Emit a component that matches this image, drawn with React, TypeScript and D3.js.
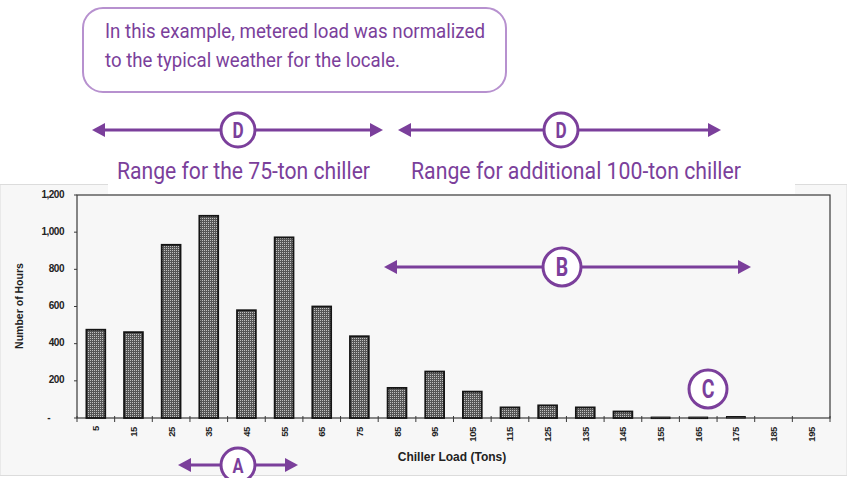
import React from "react";
import * as d3 from "d3";

const categories = ["5","15","25","35","45","55","65","75","85","95","105","115","125","135","145","155","165","175","185","195"];
const hours = [475, 462, 932, 1088, 580, 972, 600, 440, 162, 250, 142, 57, 68, 57, 35, 5, 5, 8, 0, 0];
const yTicks = [0, 200, 400, 600, 800, 1000, 1200];

const W = 847, H = 478;
const PL = 77, PR = 830, PT = 195, PB = 418;
const PURPLE = "#7b3f9b";
const PURPLE_LIGHT = "#b791cf";
const COND = "'Roboto', 'Liberation Sans', sans-serif";
const ARIAL = "'Liberation Sans', Arial, sans-serif";

function ArrowLine({ x1, x2, y, left = true, right = true }: { x1: number; x2: number; y: number; left?: boolean; right?: boolean }) {
  const hl = 13, hw = 7;
  return (
    <g>
      <line x1={left ? x1 + hl - 1 : x1} x2={right ? x2 - hl + 1 : x2} y1={y} y2={y} stroke={PURPLE} strokeWidth={3} />
      {left && <polygon points={`${x1},${y} ${x1 + hl},${y - hw} ${x1 + hl},${y + hw}`} fill={PURPLE} />}
      {right && <polygon points={`${x2},${y} ${x2 - hl},${y - hw} ${x2 - hl},${y + hw}`} fill={PURPLE} />}
    </g>
  );
}

function Badge({ cx, cy, r, label, size }: { cx: number; cy: number; r: number; label: string; size: number }) {
  return (
    <g>
      <circle cx={cx} cy={cy} r={r} fill="#fff" stroke={PURPLE} strokeWidth={3} />
      <text transform={`translate(${cx},${cy + size * 0.36}) scale(0.78,1)`} textAnchor="middle" fontFamily={COND} fontWeight="bold" fontSize={size} fill={PURPLE}>{label}</text>
    </g>
  );
}

export default function App() {
  const x = d3.scaleBand<string>().domain(categories).range([PL, PR]).paddingInner(0.5).paddingOuter(0.25);
  const y = d3.scaleLinear().domain([0, 1200]).range([PB, PT]);
  const step = x.step();
  const fmt = d3.format(",");
  const boundaries = d3.range(categories.length + 1).map((i) => PL + i * step);

  return (
    <svg width={W} height={H} style={{ position: "absolute", left: 0, top: 0, background: "#fff" }}>
      <defs>
        <pattern id="stip" width={2} height={2} patternUnits="userSpaceOnUse">
          <rect width={2} height={2} fill="#555" />
          <rect width={1} height={1} fill="#c0c0c0" />
        </pattern>
      </defs>
      {/* gray scanned chart background */}
      <rect x={0} y={184.5} width={W} height={291} fill="#f7f7f7" stroke="#dcdcdc" strokeWidth={1} />
      {/* frame */}
      <rect x={PL} y={PT} width={PR - PL} height={PB - PT} fill="none" stroke="#3a3a3a" strokeWidth={1.2} />
      {/* white band behind range labels */}
      <rect x={108} y={140} width={687} height={54} fill="#fff" />

      {/* y axis ticks */}
      {yTicks.map((t) => (
        <g key={t}>
          <line x1={PL - 3} x2={PL} y1={y(t)} y2={y(t)} stroke="#3a3a3a" />
          <text x={t === 0 ? 50 : 64} y={y(t) + 2.5} textAnchor="end" fontFamily={ARIAL} fontWeight="bold" fontSize={10} letterSpacing={-0.5} fill="#222">{t === 0 ? "-" : fmt(t)}</text>
        </g>
      ))}
      {/* x tick marks */}
      {boundaries.map((b, i) => (
        <line key={i} x1={b} x2={b} y1={PB - 2} y2={PB + 4} stroke="#3a3a3a" />
      ))}
      {/* bars */}
      {categories.map((c, i) => {
        const h = PB - y(hours[i]);
        if (hours[i] <= 0) return null;
        return (
          <rect key={c} x={x(c)!} y={y(hours[i])} width={x.bandwidth()} height={Math.max(h, 1.5)} fill="url(#stip)" stroke="#151515" strokeWidth={h > 4 ? 1.8 : 1} />
        );
      })}
      {/* x tick labels */}
      {categories.map((c) => (
        <text key={c} transform={`translate(${x(c)! + x.bandwidth() / 2 + 3.5},${c === "5" ? 426 : 427}) rotate(-90)`} textAnchor="end" fontFamily={ARIAL} fontWeight="bold" fontSize={9.5} letterSpacing={-0.4} fill="#222">{c}</text>
      ))}
      {/* axis titles */}
      <text transform="translate(23,306) rotate(-90)" textAnchor="middle" fontFamily={ARIAL} fontWeight="bold" fontSize={10.5} fill="#222">Number of Hours</text>
      <text x={452} y={461} textAnchor="middle" fontFamily={ARIAL} fontWeight="bold" fontSize={12} fill="#222">Chiller Load (Tons)</text>

      {/* callout box */}
      <rect x={83} y={8} width={423} height={84} rx={20} ry={20} fill="#fff" stroke={PURPLE_LIGHT} strokeWidth={2} />
      <text x={105} y={38} fontFamily={COND} fontSize={20} fill={PURPLE} textLength={380} lengthAdjust="spacingAndGlyphs">In this example, metered load was normalized</text>
      <text x={105} y={67} fontFamily={COND} fontSize={20} fill={PURPLE} textLength={295} lengthAdjust="spacingAndGlyphs">to the typical weather for the locale.</text>

      {/* D ranges */}
      <ArrowLine x1={92} x2={383} y={130} />
      <Badge cx={238} cy={130} r={17} label="D" size={22} />
      <ArrowLine x1={398} x2={721} y={130} />
      <Badge cx={561} cy={130} r={17} label="D" size={22} />
      <text x={117} y={179} fontFamily={COND} fontSize={23} fill={PURPLE} textLength={253} lengthAdjust="spacingAndGlyphs">Range for the 75-ton chiller</text>
      <text x={411} y={179} fontFamily={COND} fontSize={23} fill={PURPLE} textLength={330} lengthAdjust="spacingAndGlyphs">Range for additional 100-ton chiller</text>

      {/* B */}
      <ArrowLine x1={384} x2={751} y={267} />
      <Badge cx={562} cy={267} r={19} label="B" size={25} />
      {/* C */}
      <Badge cx={708} cy={389} r={19} label="C" size={25} />
      {/* A */}
      <ArrowLine x1={178} x2={298} y={465} />
      <Badge cx={238} cy={465} r={17} label="A" size={21} />
    </svg>
  );
}
